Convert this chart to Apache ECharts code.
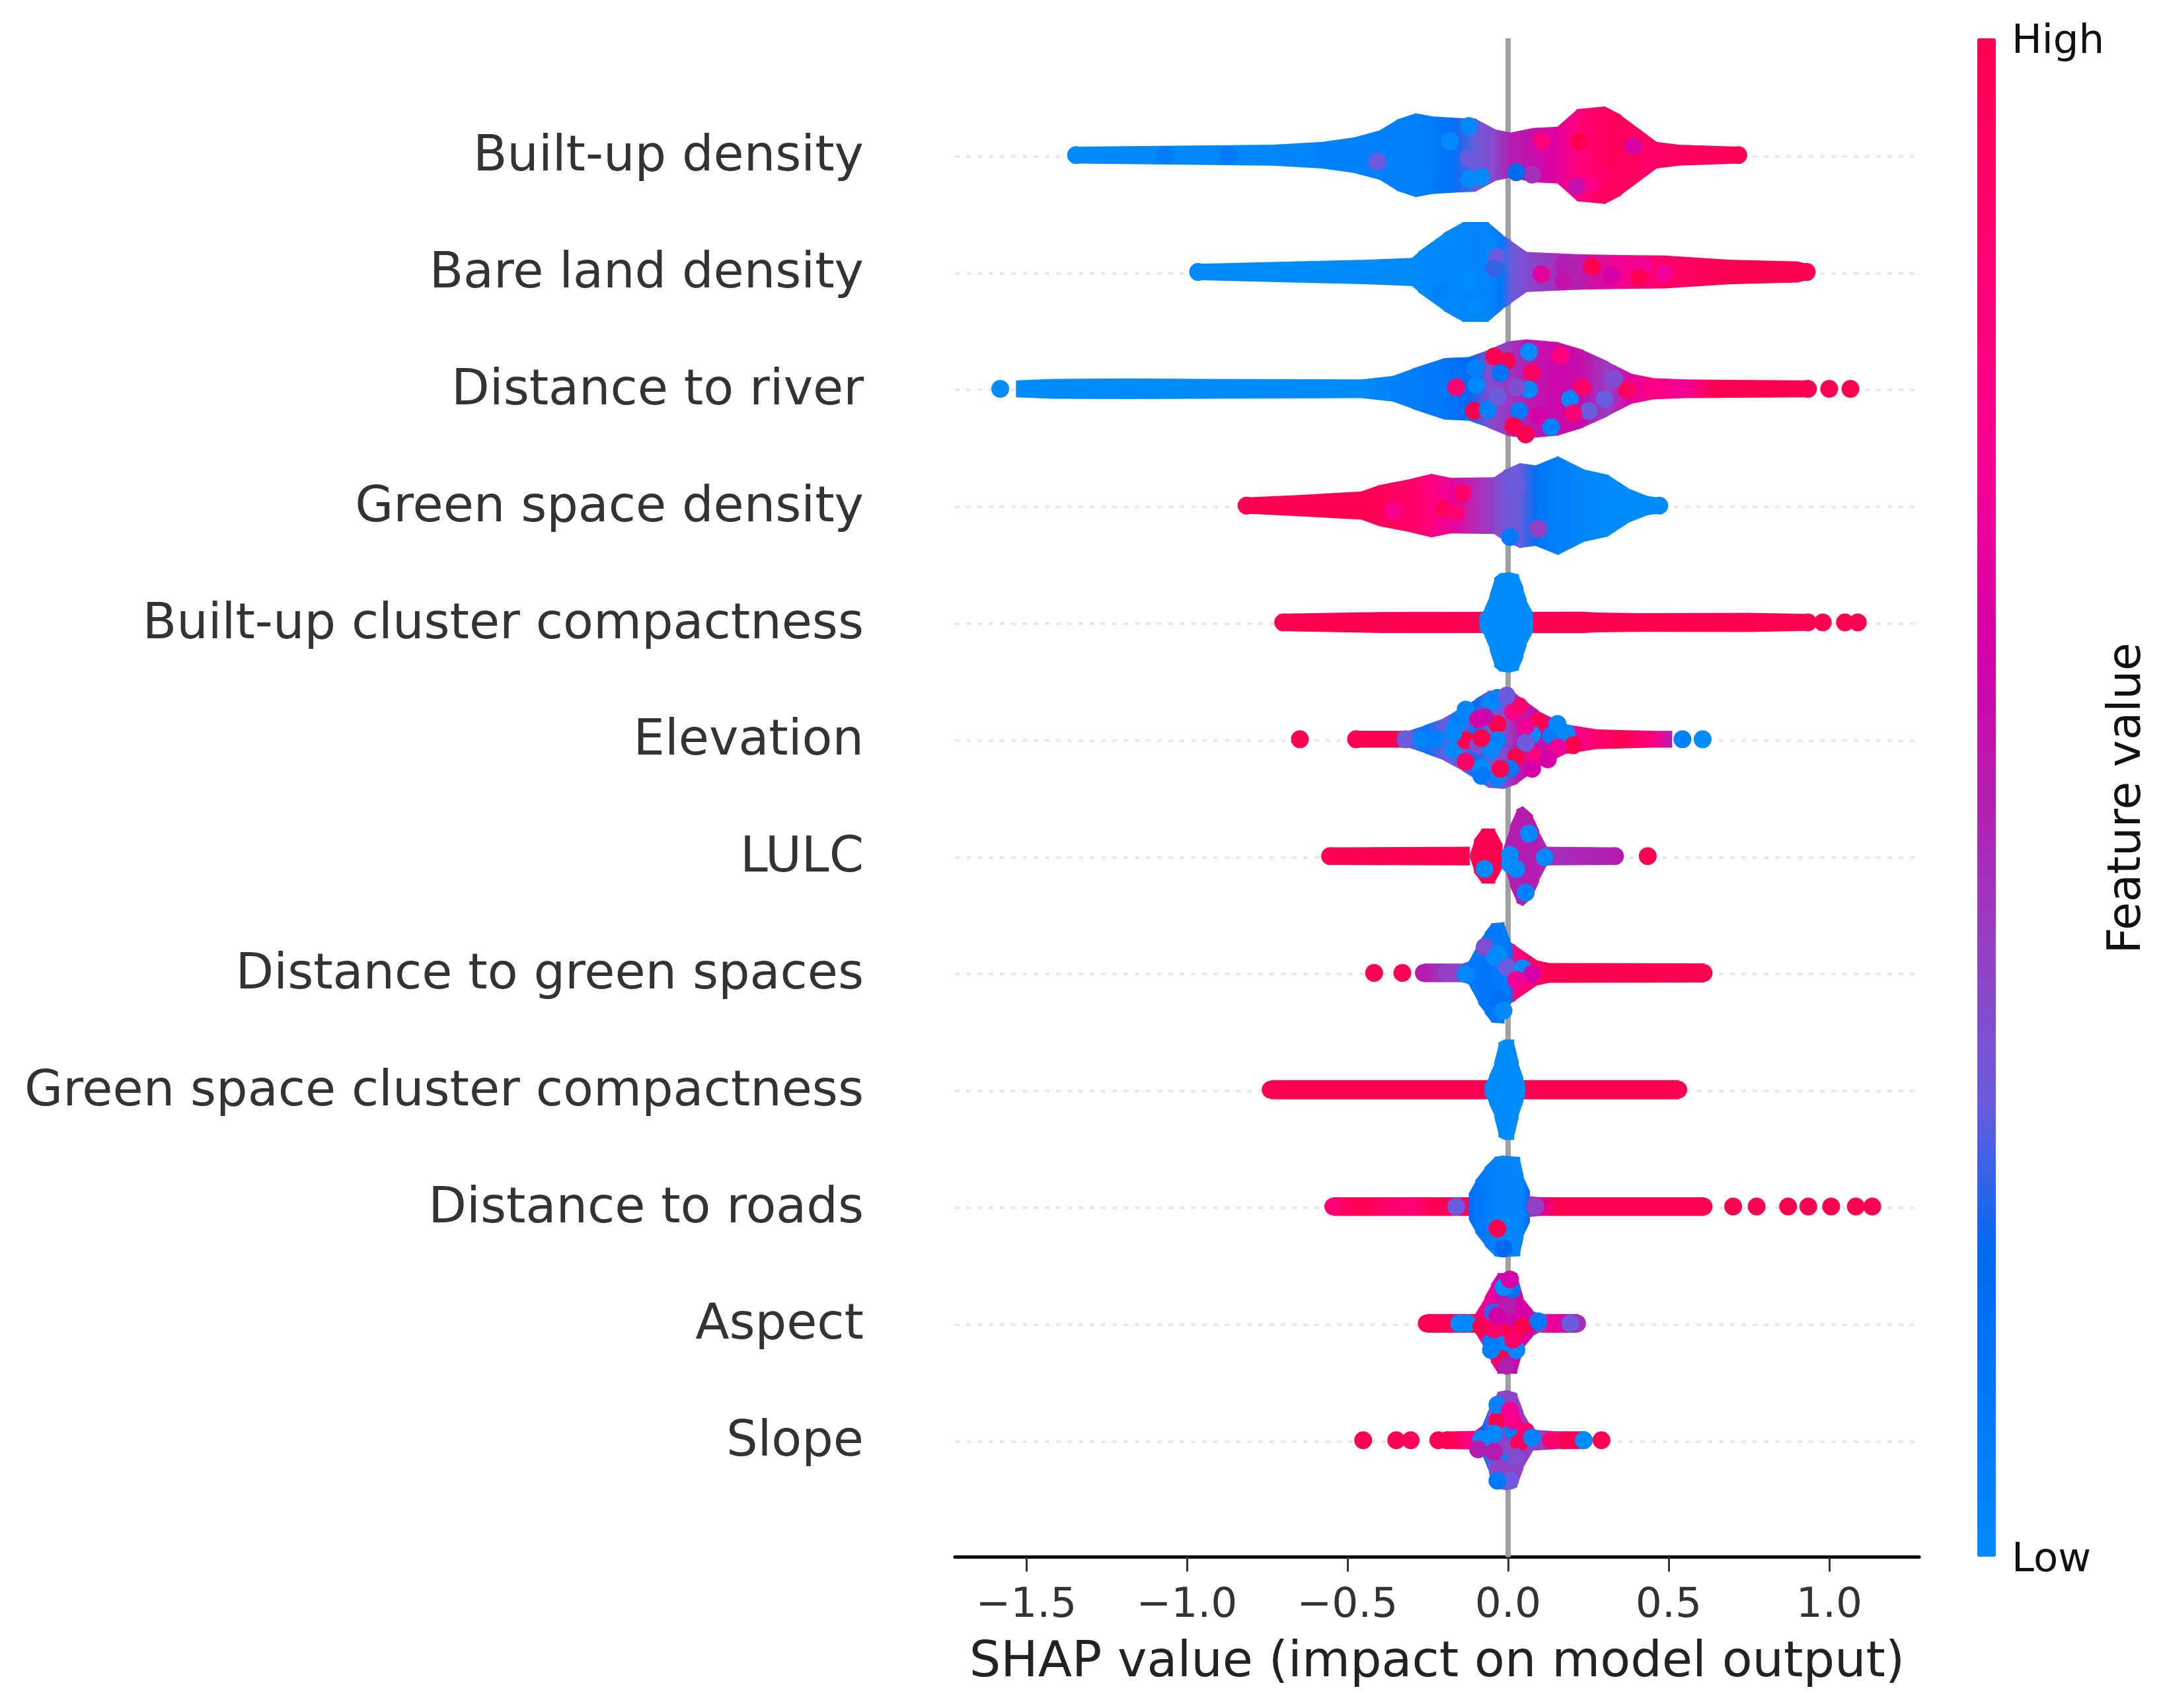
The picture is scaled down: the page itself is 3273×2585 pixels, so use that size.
<!DOCTYPE html>
<html><head><meta charset="utf-8">
<style>html,body{margin:0;padding:0;background:#fff}#c{width:3273px;height:2585px}</style>
<script src="https://cdn.jsdelivr.net/npm/echarts@6/dist/echarts.min.js"></script>
</head><body><div id="c"></div>
<script>
const features = ["Built-up density","Bare land density","Distance to river","Green space density","Built-up cluster compactness","Elevation","LULC","Distance to green spaces","Green space cluster compactness","Distance to roads","Aspect","Slope"];
const tickValues = [-1.5,-1.0,-0.5,0.0,0.5,1.0];
const tickLabels = ["−1.5","−1.0","−0.5","0.0","0.5","1.0"];
const xName = "SHAP value (impact on model output)";
const colorStops = ["#008bfb","#0078f8","#006aef","#6a5cdc","#9440c4","#b41eb0","#d400a6","#f00096","#ff0080","#ff0068","#ff0051"];

// Swarm outlines: [SHAP value, half height of the swarm in row units, feature value]
const hull0 = [[-1.345,.072,0],[-.732,.09,.02],[-.575,.115,.04],[-.476,.155,.05],[-.398,.215,.06],[-.348,.303,.06],[-.289,.36,.05],[-.24,.333,.08],[-.17,.32,.15],[-.102,.313,.3],[-.043,.222,.38],[.006,.192,.5],[.075,.232,.55],[.154,.243,.65],[.213,.394,.8],[.301,.418,.95],[.35,.344,.95],[.459,.115,.9],[.528,.09,.95],[.717,.072,.95]];
const hull1 = [[-.965,.07,0],[-.673,.09,0],[-.437,.105,0],[-.299,.121,0],[-.28,.172,0],[-.201,.333,.01],[-.142,.428,.02],[-.063,.428,.03],[-.02,.32,.1],[.006,.273,.3],[.055,.172,.36],[.213,.152,.5],[.35,.145,.72],[.488,.141,.9],[.685,.105,1],[.902,.09,1],[.93,.068,1]];
const hull2 = [[-1.532,.072,0],[-1.421,.085,0],[-1.185,.088,0],[-.949,.085,0],[-.457,.08,0],[-.358,.111,.05],[-.299,.172,.08],[-.201,.263,.1],[-.122,.273,.2],[-.063,.333,.35],[-.004,.404,.42],[.055,.424,.5],[.154,.4,.58],[.232,.333,.55],[.311,.232,.4],[.38,.131,.65],[.449,.091,.8],[.55,.08,.7],[.646,.078,1],[.934,.072,1]];
const hull3 = [[-.814,.07,1],[-.654,.091,1],[-.457,.121,1],[-.407,.172,.97],[-.299,.232,.9],[-.24,.273,.8],[-.181,.238,.68],[-.043,.243,.38],[-.014,.303,.32],[.035,.364,.3],[.085,.344,.15],[.154,.424,.05],[.232,.313,.03],[.311,.263,0],[.37,.152,0],[.429,.085,0],[.471,.066,0]];
const hull4a = [[-.7,.075,1],[-.398,.09,1],[.232,.092,1],[.272,.085,1],[.409,.08,1],[.744,.082,1],[.934,.072,1]];
const hull4b = [[-.089,.06,0],[-.073,.12,0],[-.057,.24,0],[-.043,.38,0],[-.028,.42,0],[.006,.43,0],[.031,.41,0],[.045,.3,0],[.055,.2,0],[.075,.08,0]];
const hull5 = [[-.473,.072,1],[-.348,.072,1],[-.31,.072,.3],[-.26,.12,.1],[-.201,.182,.3],[-.142,.273,.3],[-.102,.344,.15],[-.063,.415,.3],[-.014,.425,.35],[.026,.384,.5],[.094,.243,.55],[.173,.13,.7],[.272,.085,.85],[.35,.078,1],[.45,.072,.8],[.508,.072,.5]];
const hull6a = [[-.554,.075,1],[-.122,.08,1]];
const hull6b = [[-.118,.02,1],[-.106,.14,1],[-.083,.235,1],[-.043,.235,1],[-.02,.1,1]];
const hull6c = [[-.014,.07,.5],[.006,.26,.5],[.026,.4,.5],[.045,.43,.5],[.075,.35,.5],[.094,.22,.5],[.118,.08,.45],[.333,.075,.5]];
const hull7 = [[-.262,.08,.5],[-.142,.08,.35],[-.122,.1,.1],[-.093,.263,.1],[-.073,.344,.12],[-.053,.424,.1],[-.014,.435,.08],[.006,.263,.12],[.02,.24,.8],[.085,.111,.9],[.124,.085,1],[.609,.082,1]];
const hull8a = [[-.739,.082,1],[.53,.082,1]];
const hull8b = [[-.073,.04,0],[-.059,.12,0],[-.043,.232,0],[-.03,.404,0],[-.014,.43,0],[.016,.43,0],[.03,.242,0],[.045,.1,0],[.051,.05,0]];
const hull9a = [[-.544,.08,.9],[-.45,.08,1],[-.38,.08,.9],[-.29,.08,.85],[-.24,.08,1],[-.122,.08,.9]];
const hull9b = [[-.122,.112,.2],[-.102,.224,.1],[-.073,.336,.08],[-.043,.425,.05],[-.02,.436,.03],[.006,.43,.03],[.035,.425,.03],[.045,.27,.05],[.065,.134,.2]];
const hull9c = [[.065,.09,.4],[.094,.08,.6],[.154,.08,1],[.609,.08,1]];
const hull10 = [[-.253,.08,1],[-.102,.08,.95],[-.073,.224,.7],[-.053,.336,.7],[-.033,.43,.6],[-.004,.43,.55],[.026,.43,.6],[.045,.22,.6],[.075,.11,.6],[.094,.08,.3],[.125,.08,.7],[.19,.08,.6],[.215,.08,.45]];
const hull11 = [[-.19,.075,1],[-.102,.08,.75],[-.079,.134,.2],[-.059,.29,.3],[-.033,.414,.4],[-.004,.43,.38],[.026,.403,.4],[.045,.246,.4],[.075,.09,.4],[.15,.076,.45],[.19,.076,1],[.235,.076,1]];

// Individual visible points: [SHAP value, offset from the row in row units, feature value]
const dots0 = [[-1.345,0,0],[.717,0,1],[-.87,0,.1],[-1.067,0,.08],[-.407,-.055,.3],[-.309,.208,.05],[-.26,-.186,.05],[-.122,-.206,0],[-.083,-.186,0],[-.181,.117,0],[-.122,.249,.02],[-.122,-.024,.3],[.252,.259,.9],[.222,.117,1],[.39,.077,.62],[.252,-.247,.75],[.301,-.186,.9],[.213,-.267,.55],[.075,-.166,.45],[.104,.117,.8],[.026,-.146,.2]];
const dots1 = [[-.965,0,0],[.93,0,1],[-.063,.25,.02],[-.211,-.17,.04],[-.122,-.083,0],[-.102,-.295,0],[-.034,.13,.3],[-.043,.03,.25],[.173,.06,.5],[.173,-.08,.55],[.262,.05,1],[.419,.05,.7],[.488,-.012,.7],[.409,-.05,1],[.321,-.03,.6],[.104,-.02,.65]];
const dots2 = [[-1.581,0,0],[.934,0,1],[1.0,0,1],[1.066,0,1],[.065,.317,0],[-.004,.236,1],[-.024,.135,.15],[.075,.135,.92],[-.098,.034,.02],[-.161,.014,.85],[.065,-.006,.02],[.193,-.087,.02],[.232,.014,.9],[.37,-.006,.95],[.331,.085,.35],[-.106,-.188,1],[.035,-.188,.1],[-.063,-.178,.05],[.252,-.188,.3],[.016,-.319,1],[.163,.287,.8],[-.033,-.067,.3],[.094,-.228,.6],[.026,.014,.35],[.301,-.087,.3],[.203,-.208,.85],[.134,-.329,.05],[.055,-.39,1],[-.102,.176,.05],[-.043,.277,1]];
const dots3 = [[-.814,0,1],[.471,0,0],[-.358,-.046,.75],[-.26,-.148,.85],[-.201,-.026,.95],[-.142,.105,.9],[-.161,-.057,.85],[.094,-.198,.4],[.006,-.269,.1],[.026,.166,.3]];
const dots4 = [[-.7,0,1],[.934,0,1],[.98,0,1],[1.049,0,1],[1.089,0,1]];
const dots5 = [[-.473,0,1],[-.648,0,1],[.543,0,.05],[.606,0,0],[-.319,0,.3],[-.27,0,.03],[-.224,0,.05],[-.165,.111,0],[-.171,-.091,.02],[-.132,-.01,1],[-.093,-.051,.35],[-.033,.131,1],[-.053,.313,0],[-.073,.192,.55],[.016,.232,.75],[.094,.152,1],[.075,.04,0],[.134,.03,.08],[.183,.051,.02],[.203,-.051,1],[.026,-.152,1],[-.043,-.03,.1],[-.083,-.242,0],[-.033,-.333,.05],[-.132,-.192,.9],[.085,-.152,.8],[.006,-.253,.1],[-.033,.354,.05],[.035,.283,.85],[.154,.131,.02],[-.171,.05,.02],[-.152,.172,.05],[-.132,.253,.03],[-.033,-.01,.05],[-.053,-.091,.02],[-.024,-.253,1],[-.083,.01,1],[-.093,.172,.6],[.055,.111,.7],[.055,-.03,.3],[.154,-.071,.7],[.075,-.253,.6],[-.083,-.313,.1],[.124,-.172,.6],[-.004,.374,.3]];
const dots6 = [[-.554,0,1],[.333,0,.5],[-.073,-.111,0],[.006,.01,0],[.065,.192,.02],[.114,-.01,.02],[.026,-.111,.02],[.435,0,1],[.055,-.313,.05],[.006,-.07,0]];
const dots7 = [[-.262,0,.5],[.609,0,1],[-.417,0,1],[-.329,0,1],[-.043,.141,0],[-.004,.051,.3],[-.132,-.01,.02],[-.033,-.222,.15],[-.014,-.323,0],[-.073,.222,.35],[.045,.04,0],[.075,-.01,.6],[.026,-.06,.7],[-.191,0,.4],[-.033,.162,0]];
const dots8 = [[-.739,0,1],[.53,0,1]];
const dots9 = [[-.544,0,.85],[.609,0,1],[.701,0,1],[.774,0,1],[.872,0,1],[.935,0,1],[1.006,0,1],[1.083,0,1],[1.134,0,1],[-.033,-.188,1],[.085,0,.4],[-.161,0,.3],[-.014,-.357,.2]];
const dots10 = [[-.253,0,1],[.215,0,.45],[-.152,0,0],[-.126,0,.02],[-.083,-.027,1],[-.047,.096,.25],[.012,.286,.15],[-.004,.152,.5],[.045,-.027,1],[-.01,-.083,1],[-.024,-.183,.05],[-.02,-.307,1],[.026,-.228,.02],[-.053,-.161,.1],[.094,.018,.1],[.193,0,.3],[-.014,.309,0],[.006,.376,.6],[-.043,-.05,.9],[.016,-.139,.9],[-.033,.063,.6],[-.053,-.228,.05],[-.004,-.362,.5]];
const dots11 = [[-.451,0,1],[-.348,0,1],[-.303,0,.95],[-.217,0,1],[-.19,0,1],[.235,0,1],[-.083,.011,.03],[-.033,.168,1],[.016,.078,.08],[-.043,.056,.02],[.035,-.022,.95],[-.028,-.168,.05],[-.024,-.235,.4],[-.033,.304,.05],[.006,.257,.7],[.236,0,0],[.291,0,1],[.104,0,.4],[.177,0,1],[.134,0,.9],[.055,.078,.85],[.006,-.347,.3],[-.033,-.347,.1],[.075,.022,.05],[-.093,-.078,.5],[.026,-.145,.35],[.016,.168,.75],[-.043,-.1,.5]];

const hullsByRow = [[hull0],[hull1],[hull2],[hull3],[hull4a,hull4b],[hull5],[hull6a,hull6b,hull6c],[hull7],[hull8a,hull8b],[hull9a,hull9b,hull9c],[hull10],[hull11]];
const dotsByRow = [dots0,dots1,dots2,dots3,dots4,dots5,dots6,dots7,dots8,dots9,dots10,dots11];
const rowValue = i => features.length - 1 - i;

function featureColor(t){
  const p = Math.max(0,Math.min(1,t))*(colorStops.length-1), a = Math.floor(p), b = Math.min(a+1,colorStops.length-1);
  const ca = echarts.color.parse(colorStops[a]), cb = echarts.color.parse(colorStops[b]), f = p-a;
  return `rgb(${[0,1,2].map(k=>Math.round(ca[k]+(cb[k]-ca[k])*f)).join(',')})`;
}
const hullData = [];
hullsByRow.forEach((hulls,i)=>hulls.forEach(h=>{
  for(let k=0;k+1<h.length;k++) hullData.push([h[k][0],rowValue(i),h[k][1],h[k][2],h[k+1][0],h[k+1][1],h[k+1][2]]);
}));
const dotData = [];
dotsByRow.forEach((ds,i)=>ds.forEach(d=>dotData.push([d[0],rowValue(i)+d[1],d[2]])));

const FONT = '"DejaVu Sans"';
const chart = echarts.init(document.getElementById('c'),null,{renderer:'canvas'});
chart.setOption({
  animation:false,
  backgroundColor:'#fff',
  grid:{left:1445,top:58,width:1459,height:2298.5},
  xAxis:{type:'value',min:-1.722,max:1.28,
    name:xName,nameLocation:'middle',nameGap:124,
    nameTextStyle:{fontSize:75,fontFamily:FONT,color:'#222'},
    axisLine:{onZero:false,lineStyle:{color:'#000',width:5}},
    axisTick:{length:22,lineStyle:{color:'#333',width:3},customValues:tickValues},
    axisLabel:{fontSize:63,fontFamily:FONT,color:'#333',margin:43,customValues:tickValues,
      formatter:v=>{const i=tickValues.findIndex(t=>Math.abs(t-v)<1e-6);return i>=0?tickLabels[i]:'';}},
    splitLine:{show:false}},
  yAxis:{type:'value',min:-1,max:12,interval:1,
    axisLine:{show:false,onZero:false},axisTick:{show:false},splitLine:{show:false},
    axisLabel:{fontSize:75,fontFamily:FONT,color:'#333',margin:138,verticalAlign:'top',lineHeight:8,
      formatter:v=>features[rowValue(0)-v]||''}},
  visualMap:{type:'continuous',min:0,max:1,dimension:2,seriesIndex:2,show:true,calculable:false,
    orient:'vertical',left:2992,top:58,itemWidth:28,itemHeight:2298,padding:0,text:null,
    inRange:{color:colorStops},hoverLink:false},
  series:[
    {type:'line',data:[],z:1,silent:true,
      markLine:{silent:true,z:1,symbol:'none',animation:false,label:{show:false},
        data:[...features.map((_,i)=>({yAxis:rowValue(i)-0.012,lineStyle:{color:'#e8e8e8',width:4,type:[7,10]}})),
              {xAxis:0,lineStyle:{color:'#a0a0a0',width:8,type:'solid'}}]}},
    {type:'custom',z:2,silent:true,clip:false,data:hullData,encode:{x:[0,4],y:1},
      renderItem:(params,api)=>{
        const x1=api.value(0),y=api.value(1),h1=api.value(2),f1=api.value(3),x2=api.value(4),h2=api.value(5),f2=api.value(6);
        const a=api.coord([x1,y+h1]),b=api.coord([x2,y+h2]),c=api.coord([x2,y-h2]),d=api.coord([x1,y-h1]);
        return {type:'polygon',shape:{points:[a,[b[0]+1.5,b[1]],[c[0]+1.5,c[1]],d]},
          style:{fill:new echarts.graphic.LinearGradient(0,0,1,0,[{offset:0,color:featureColor(f1)},{offset:1,color:featureColor(f2)}])}};
      }},
    {type:'scatter',z:3,silent:true,symbol:'circle',symbolSize:27,itemStyle:{opacity:1},data:dotData,encode:{x:0,y:1}}
  ],
  graphic:[
    {type:'text',x:3044,y:64,style:{text:'High',fontSize:61,fontFamily:FONT,fill:'#111',verticalAlign:'middle'}},
    {type:'text',x:3044,y:2362,style:{text:'Low',fontSize:61,fontFamily:FONT,fill:'#111',verticalAlign:'middle'}},
    {type:'text',x:3220,y:1208,rotation:Math.PI/2,style:{text:'Feature value',fontSize:69,fontFamily:FONT,fill:'#111',align:'center',verticalAlign:'middle'}}
  ]
});
</script></body></html>
